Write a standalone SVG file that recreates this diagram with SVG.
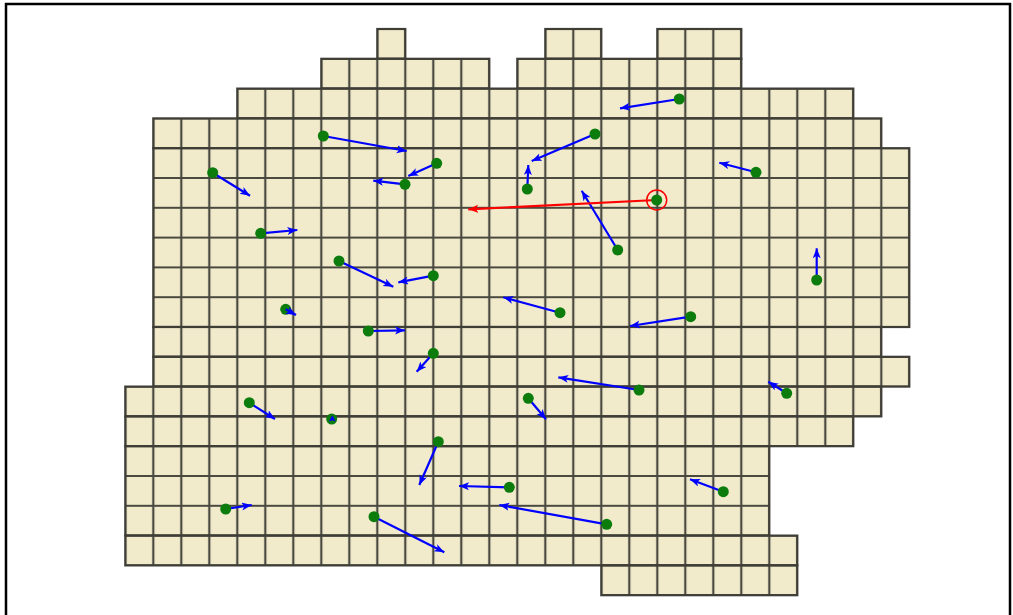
<svg xmlns="http://www.w3.org/2000/svg" width="1013" height="615" viewBox="0 0 1013 615">
<style>
.row{fill:url(#g);stroke:#3f3e36;stroke-width:2.2}
.v{stroke:#0000ff;stroke-width:2.2;marker-end:url(#ab)}
.r{stroke:#ff0000;stroke-width:2.2;marker-end:url(#ar)}
.d{fill:#0c7c0c}
</style>
<defs>
<pattern id="g" patternUnits="userSpaceOnUse" x="125.3" y="29" width="28" height="29.8">
<rect width="28" height="29.8" fill="#f1ebcc"/>
<path d="M0,0V29.8M28,0V29.8M0,0H28M0,29.8H28" stroke="#4a4940" stroke-width="2.2" fill="none"/>
</pattern>
<marker id="ab" markerUnits="userSpaceOnUse" markerWidth="11" markerHeight="9" refX="10" refY="4" orient="auto">
<path d="M0,0L10,4L0,8L2.5,4z" fill="#0000ff"/>
</marker>
<marker id="ar" markerUnits="userSpaceOnUse" markerWidth="11" markerHeight="9" refX="10" refY="4" orient="auto">
<path d="M0,0L10,4L0,8L2.5,4z" fill="#ff0000"/>
</marker>
</defs>
<rect x="6" y="4" width="1004" height="640" fill="#fff" stroke="#000" stroke-width="2.5"/>
<g id="grid">
<rect class="row" x="377.3" y="29" width="28" height="29.8"/>
<rect class="row" x="545.3" y="29" width="56" height="29.8"/>
<rect class="row" x="657.3" y="29" width="84" height="29.8"/>
<rect class="row" x="321.3" y="58.8" width="168" height="29.8"/>
<rect class="row" x="517.3" y="58.8" width="224" height="29.8"/>
<rect class="row" x="237.3" y="88.6" width="616" height="29.8"/>
<rect class="row" x="153.3" y="118.4" width="728" height="29.8"/>
<rect class="row" x="153.3" y="148.2" width="756" height="178.8"/>
<rect class="row" x="153.3" y="327" width="728" height="29.8"/>
<rect class="row" x="153.3" y="356.8" width="756" height="29.8"/>
<rect class="row" x="125.3" y="386.6" width="756" height="29.8"/>
<rect class="row" x="125.3" y="416.4" width="728" height="29.8"/>
<rect class="row" x="125.3" y="446.2" width="644" height="89.4"/>
<rect class="row" x="125.3" y="535.6" width="672" height="29.8"/>
<rect class="row" x="601.3" y="565.4" width="196" height="29.8"/>
</g>
<g id="vectors">
<g id="v1"><line class="v" x1="679.3" y1="99" x2="620" y2="108.3"/><circle class="d" cx="679.3" cy="99" r="5.5"/></g>
<g id="v2"><line class="v" x1="595" y1="134" x2="531.7" y2="161"/><circle class="d" cx="595" cy="134" r="5.5"/></g>
<g id="v3"><line class="v" x1="323.3" y1="136" x2="406.7" y2="151"/><circle class="d" cx="323.3" cy="136" r="5.5"/></g>
<g id="v4"><line class="v" x1="436.7" y1="163.3" x2="408.3" y2="176"/><circle class="d" cx="436.7" cy="163.3" r="5.5"/></g>
<g id="v5"><line class="v" x1="405" y1="184.3" x2="373.3" y2="180.7"/><circle class="d" cx="405" cy="184.3" r="5.5"/></g>
<g id="v6"><line class="v" x1="212.7" y1="172.7" x2="250" y2="195.7"/><circle class="d" cx="212.7" cy="172.7" r="5.5"/></g>
<g id="v7"><line class="v" x1="527.3" y1="189" x2="528.3" y2="165"/><circle class="d" cx="527.3" cy="189" r="5.5"/></g>
<g id="v8"><line class="v" x1="756" y1="172.3" x2="719.3" y2="162.7"/><circle class="d" cx="756" cy="172.3" r="5.5"/></g>
<g id="v10"><line class="v" x1="617.7" y1="250" x2="581.7" y2="190.7"/><circle class="d" cx="617.7" cy="250" r="5.5"/></g>
<g id="v11"><line class="v" x1="260.7" y1="233.3" x2="297.3" y2="230"/><circle class="d" cx="260.7" cy="233.3" r="5.5"/></g>
<g id="v12"><line class="v" x1="339" y1="261" x2="393.3" y2="286.7"/><circle class="d" cx="339" cy="261" r="5.5"/></g>
<g id="v13"><line class="v" x1="433.3" y1="275.7" x2="398.3" y2="282.3"/><circle class="d" cx="433.3" cy="275.7" r="5.5"/></g>
<g id="v14"><line class="v" x1="816.7" y1="280" x2="816.7" y2="248.3"/><circle class="d" cx="816.7" cy="280" r="5.5"/></g>
<g id="v15"><circle class="d" cx="285.7" cy="309.3" r="5.5"/><line class="v" x1="285.7" y1="309.3" x2="296" y2="315"/></g>
<g id="v16"><line class="v" x1="560" y1="312.7" x2="503.3" y2="297.3"/><circle class="d" cx="560" cy="312.7" r="5.5"/></g>
<g id="v17"><line class="v" x1="690.7" y1="316.7" x2="630" y2="326"/><circle class="d" cx="690.7" cy="316.7" r="5.5"/></g>
<g id="v18"><line class="v" x1="368.3" y1="331" x2="405" y2="330.3"/><circle class="d" cx="368.3" cy="331" r="5.5"/></g>
<g id="v19"><line class="v" x1="433.3" y1="353.3" x2="416.7" y2="371.7"/><circle class="d" cx="433.3" cy="353.3" r="5.5"/></g>
<g id="v20"><line class="v" x1="639" y1="390" x2="558.3" y2="377.3"/><circle class="d" cx="639" cy="390" r="5.5"/></g>
<g id="v21"><line class="v" x1="786.7" y1="393.3" x2="768.3" y2="381.7"/><circle class="d" cx="786.7" cy="393.3" r="5.5"/></g>
<g id="v22"><line class="v" x1="249.3" y1="402.7" x2="275" y2="419"/><circle class="d" cx="249.3" cy="402.7" r="5.5"/></g>
<g id="v23"><line class="v" x1="528.3" y1="398.3" x2="546" y2="419.3"/><circle class="d" cx="528.3" cy="398.3" r="5.5"/></g>
<g id="v24"><circle class="d" cx="331.7" cy="419" r="5.5"/><polygon points="332.3,415.3 335.6,421.6 332.2,420.2 328.9,421.4" fill="#0000ff"/></g>
<g id="v25"><line class="v" x1="438.3" y1="441.7" x2="419.3" y2="485"/><circle class="d" cx="438.3" cy="441.7" r="5.5"/></g>
<g id="v26"><line class="v" x1="509.3" y1="487.3" x2="459" y2="486"/><circle class="d" cx="509.3" cy="487.3" r="5.5"/></g>
<g id="v27"><line class="v" x1="723.3" y1="491.7" x2="690" y2="479.3"/><circle class="d" cx="723.3" cy="491.7" r="5.5"/></g>
<g id="v28"><line class="v" x1="225.7" y1="509" x2="251.7" y2="505"/><circle class="d" cx="225.7" cy="509" r="5.5"/></g>
<g id="v29"><line class="v" x1="374" y1="516.7" x2="444.3" y2="552.3"/><circle class="d" cx="374" cy="516.7" r="5.5"/></g>
<g id="v30"><line class="v" x1="606.7" y1="524.3" x2="499.3" y2="505"/><circle class="d" cx="606.7" cy="524.3" r="5.5"/></g>
<g id="v9"><line class="r" x1="656.7" y1="200" x2="468.3" y2="209.3"/><circle class="d" cx="656.7" cy="200" r="5.5"/><circle cx="656.7" cy="200" r="10" fill="none" stroke="#ff0000" stroke-width="1.5"/></g>
</g>
</svg>
